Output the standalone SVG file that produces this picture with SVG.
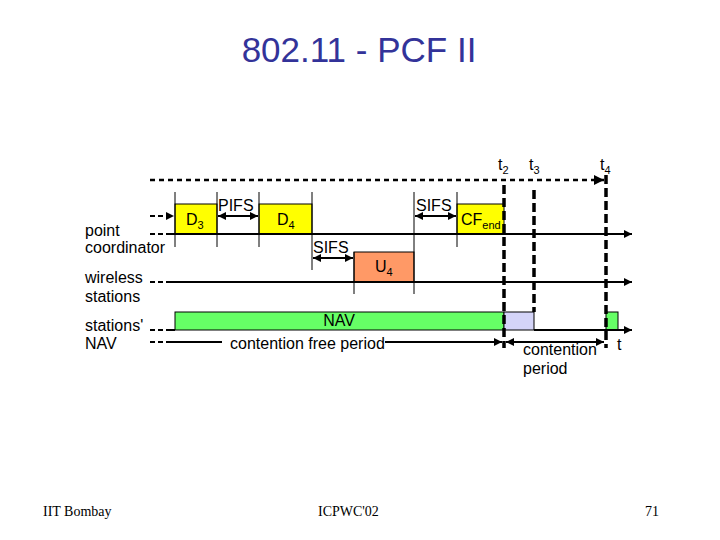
<svg xmlns="http://www.w3.org/2000/svg" width="720" height="540" viewBox="0 0 720 540">
<style>
.lbl{font-family:"Liberation Sans",Arial,sans-serif;font-size:16px;fill:#000}
.sub{font-size:11px}
.ttl{font-family:"Liberation Sans",Arial,sans-serif;font-size:35px;fill:#333399}
.ftr{font-family:"Liberation Serif","Times New Roman",serif;font-size:14px;fill:#000}
.ln{stroke:#000;stroke-width:2;fill:none}
.dl{stroke:#000;stroke-width:2;stroke-dasharray:5,3;fill:none}
.tick{stroke:#000;stroke-width:1;fill:none}
.tdash{stroke:#000;stroke-width:3.5;stroke-dasharray:9,4;fill:none}
.top{stroke:#000;stroke-width:2.5;stroke-dasharray:5,4;fill:none}
.yel{fill:#FFFF00;stroke:#000;stroke-width:1}
</style>
<defs>
<marker id="ah" viewBox="0 0 10 10" refX="10" refY="5" markerWidth="4" markerHeight="4" orient="auto-start-reverse" markerUnits="strokeWidth">
<path d="M0,0 L10,5 L0,10 z" fill="#000"/>
</marker>
</defs>
<rect width="720" height="540" fill="#fff"/>
<text class="ttl" x="359" y="62" text-anchor="middle">802.11 - PCF II</text>

<g id="labels">
<text class="lbl" x="85" y="236">point</text>
<text class="lbl" x="85" y="253">coordinator</text>
<text class="lbl" x="85" y="283">wireless</text>
<text class="lbl" x="85" y="302">stations</text>
<text class="lbl" x="85" y="331">stations'</text>
<text class="lbl" x="85" y="349">NAV</text>
<text class="lbl" x="498" y="170">t<tspan class="sub" dy="4">2</tspan></text>
<text class="lbl" x="529" y="170">t<tspan class="sub" dy="4">3</tspan></text>
<text class="lbl" x="600" y="170">t<tspan class="sub" dy="4">4</tspan></text>
</g>

<g id="D3"><rect class="yel" x="175" y="204" width="42" height="30"/><text class="lbl" x="186" y="225">D<tspan class="sub" dy="4">3</tspan></text></g>
<g id="D4"><rect class="yel" x="259" y="204" width="53" height="30"/><text class="lbl" x="277" y="225">D<tspan class="sub" dy="4">4</tspan></text></g>
<g id="CFend"><rect class="yel" x="457" y="204" width="47" height="30"/><text class="lbl" x="461" y="225">CF<tspan class="sub" dy="4">end</tspan></text></g>
<g id="U4"><rect x="354" y="252" width="60" height="30" fill="#FF9966" stroke="#000" stroke-width="1"/><text class="lbl" x="375" y="272">U<tspan class="sub" dy="4">4</tspan></text></g>
<g id="NAV"><rect x="175" y="312" width="329" height="18" fill="#66FF66" stroke="#000" stroke-width="1"/><text class="lbl" x="339" y="326" text-anchor="middle">NAV</text></g>
<g id="CP"><rect x="504" y="312" width="30" height="18" fill="#D4D4F8" stroke="#000" stroke-width="1"/></g>
<g id="NAV2"><rect x="606" y="312" width="12" height="18" fill="#66FF66" stroke="#000" stroke-width="1"/></g>

<g id="connectors">
<!-- top dashed arrow -->
<line class="top" x1="150" y1="180" x2="604" y2="180" marker-end="url(#ah)"/>
<!-- left dashed stubs -->
<line class="dl" x1="150" y1="216" x2="174" y2="216" marker-end="url(#ah)"/>
<line class="dl" x1="150" y1="234" x2="166" y2="234"/>
<line class="dl" x1="150" y1="282" x2="166" y2="282"/>
<line class="dl" x1="150" y1="330" x2="166" y2="330"/>
<line class="dl" x1="150" y1="342" x2="166" y2="342"/>
<!-- timelines -->
<line class="ln" x1="166" y1="234" x2="632" y2="234" marker-end="url(#ah)"/>
<line class="ln" x1="166" y1="282" x2="632" y2="282" marker-end="url(#ah)"/>
<line class="ln" x1="166" y1="330" x2="175" y2="330"/>
<line class="ln" x1="534" y1="330" x2="632" y2="330" marker-end="url(#ah)"/>
<!-- ticks -->
<line class="tick" x1="175" y1="192" x2="175" y2="247"/>
<line class="tick" x1="217" y1="192" x2="217" y2="247"/>
<line class="tick" x1="259" y1="192" x2="259" y2="247"/>
<line class="tick" x1="312" y1="192" x2="312" y2="270"/>
<line class="tick" x1="354" y1="252" x2="354" y2="294"/>
<line class="tick" x1="414" y1="192" x2="414" y2="294"/>
<line class="tick" x1="457" y1="192" x2="457" y2="247"/>
<!-- interval arrows -->
<line class="ln" x1="218" y1="216" x2="258" y2="216" marker-start="url(#ah)" marker-end="url(#ah)"/>
<line class="ln" x1="415" y1="216" x2="456" y2="216" marker-start="url(#ah)" marker-end="url(#ah)"/>
<line class="ln" x1="313" y1="258" x2="353" y2="258" marker-start="url(#ah)" marker-end="url(#ah)"/>
<line class="ln" x1="166" y1="342" x2="222" y2="342"/>
<line class="ln" x1="385" y1="342" x2="502" y2="342" marker-end="url(#ah)"/>
<line class="ln" x1="506" y1="342" x2="604" y2="342" marker-start="url(#ah)" marker-end="url(#ah)"/>
<!-- thick dashed time markers -->
<line class="tdash" x1="504" y1="185" x2="504" y2="348"/>
<line class="tdash" x1="534" y1="190" x2="534" y2="312"/>
<line class="tdash" x1="606" y1="175" x2="606" y2="348"/>
</g>

<g id="texts">
<text class="lbl" x="218" y="211">PIFS</text>
<text class="lbl" x="416" y="211">SIFS</text>
<text class="lbl" x="313" y="253">SIFS</text>
<text class="lbl" x="230" y="349">contention free period</text>
<text class="lbl" x="523" y="355">contention</text>
<text class="lbl" x="523" y="374">period</text>
<text class="lbl" x="617" y="350">t</text>
</g>

<g id="footer">
<text class="ftr" x="43" y="516">IIT Bombay</text>
<text class="ftr" x="318" y="516">ICPWC'02</text>
<text class="ftr" x="645" y="516">71</text>
</g>
</svg>
